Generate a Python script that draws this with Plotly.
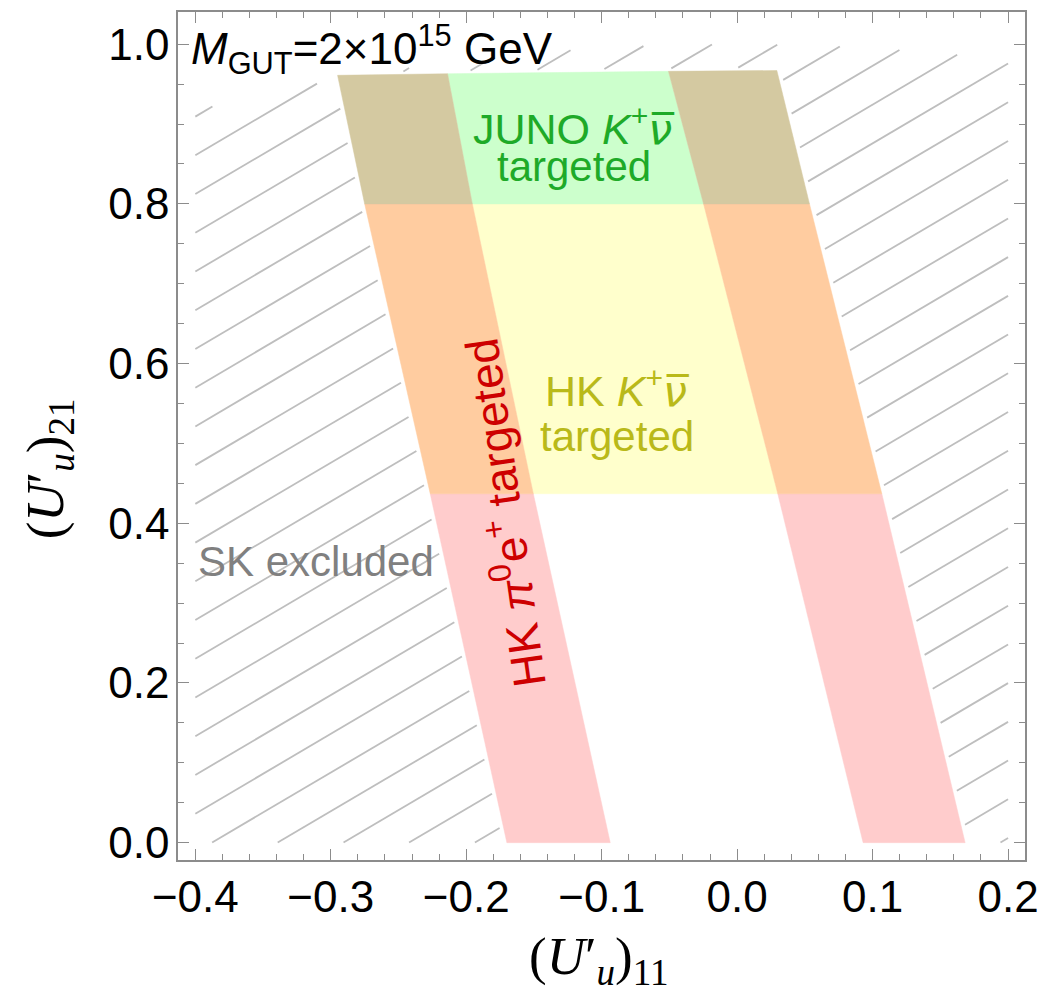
import numpy as np
import plotly.graph_objects as go

# ---------------- data ----------------
# band edges: (U'_u)_11 values at given (U'_u)_21 levels
L1_y = [0.0, 0.437, 0.80, 0.961]
L1_x = [-0.170, -0.2266, -0.275, -0.295]
L2_y = [0.0, 0.437, 0.80, 0.963]
L2_x = [-0.0937, -0.1505, -0.1955, -0.2138]
R1_y = [0.0, 0.437, 0.80, 0.966]
R1_x = [0.0930, 0.0300, -0.0248, -0.0507]
R2_y = [0.0, 0.437, 0.80, 0.967]
R2_x = [0.1683, 0.1068, 0.0534, 0.0293]

HK_KNU_LOW = 0.437     # lower limit of HK K+nu targeted
JUNO_LOW = 0.80        # lower limit of JUNO K+nu targeted

SK_XMIN, SK_XMAX = -0.4, 0.2          # extent of the SK excluded hatch
HATCH_C0, HATCH_DC = 0.3878, 0.0485   # hatch line offsets (y - x)

x_ticks = [-0.4, -0.3, -0.2, -0.1, 0.0, 0.1, 0.2]
y_ticks = [0.0, 0.2, 0.4, 0.6, 0.8, 1.0]

C_PINK = "rgb(255,204,204)"
C_ORANGE = "rgb(255,204,160)"
C_YELLOW = "rgb(255,255,204)"
C_GREEN = "rgb(204,255,204)"
C_BROWN = "rgb(212,201,161)"
C_HATCH = "rgb(190,190,190)"
FRAME = "rgb(140,140,140)"


def edge_pts(ex, ey, y0, y1):
    """points of an edge between y0 and y1 (y1=None -> edge top)"""
    ex = np.asarray(ex, float); ey = np.asarray(ey, float)
    if y1 is None:
        y1 = ey[-1]
    ys = [y0] + [v for v in ey if y0 < v < y1] + [y1]
    xs = list(np.interp(ys, ey, ex))
    return xs, ys


def region(left, right, y0, y1):
    lx, ly = edge_pts(*left, y0, y1)
    rx, ry = edge_pts(*right, y0, y1)
    xs = lx + rx[::-1] + [lx[0]]
    ys = ly + ry[::-1] + [ly[0]]
    return xs, ys


L1 = (L1_x, L1_y); L2 = (L2_x, L2_y); R1 = (R1_x, R1_y); R2 = (R2_x, R2_y)

fig = go.Figure()


def add_poly(xs, ys, color):
    fig.add_trace(go.Scatter(x=xs, y=ys, mode="lines", fill="toself",
                             fillcolor=color, line=dict(width=0.5, color=color),
                             hoverinfo="skip", showlegend=False))


# middle (targeted by HK / JUNO K+nu)
add_poly(*region(L2, R1, HK_KNU_LOW, JUNO_LOW), C_YELLOW)
add_poly(*region(L2, R1, JUNO_LOW, None), C_GREEN)
# bands (HK pi0 e+ targeted)
for a, b in [(L1, L2), (R1, R2)]:
    add_poly(*region(a, b, 0.0, HK_KNU_LOW), C_PINK)
    add_poly(*region(a, b, HK_KNU_LOW, JUNO_LOW), C_ORANGE)
    add_poly(*region(a, b, JUNO_LOW, None), C_BROWN)

# ---------------- SK excluded hatching ----------------
mx, my = 0.003, 0.004
hx, hy = [], []
xs = np.arange(SK_XMIN, SK_XMAX + 1e-9, 0.0002)
top_x = [L1_x[-1], R2_x[-1]]
top_y = [L1_y[-1], R2_y[-1]]
for k in range(-14, 23):
    c = HATCH_C0 + HATCH_DC * k
    ys = xs + c
    lim = np.sqrt(np.clip(1 - xs ** 2, 0, None))
    ok = (ys >= 0) & (ys <= lim)
    inside = ((xs > np.interp(ys, L1_y, L1_x) - mx) &
              (xs < np.interp(ys, R2_y, R2_x) + mx) &
              (ys < np.interp(xs, top_x, top_y) + my))
    ok &= ~inside
    idx = np.where(ok)[0]
    if len(idx) == 0:
        continue
    breaks = np.where(np.diff(idx) > 1)[0]
    starts = np.concatenate([[idx[0]], idx[breaks + 1]])
    ends = np.concatenate([idx[breaks], [idx[-1]]])
    for s, e in zip(starts, ends):
        if e - s < 2:
            continue
        hx += [xs[s], xs[e], None]
        hy += [ys[s], ys[e], None]

fig.add_trace(go.Scatter(x=hx, y=hy, mode="lines",
                         line=dict(color=C_HATCH, width=1.8),
                         hoverinfo="skip", showlegend=False))

SANS = "Liberation Sans, Arial, sans-serif"
SERIF = "Liberation Serif, Times New Roman, serif"
NUBAR = "<span style=\"font-family:'DejaVu Sans'\">ν̅</span>"
GREEN_T = "rgb(30,170,40)"
OLIVE_T = "rgb(185,185,25)"

ann = [
    dict(x=-0.405, y=0.993, xanchor="left", yanchor="middle",
         text="<i>M</i><sub>GUT</sub>=2×10<sup>15</sup> GeV",
         font=dict(size=44, color="black", family=SANS)),
    dict(x=-0.1203, y=0.897, xanchor="center", yanchor="middle",
         text="JUNO <i>K</i><sup>+</sup><i>" + NUBAR + "</i>",
         font=dict(size=43, color=GREEN_T, family=SANS)),
    dict(x=-0.1203, y=0.847, xanchor="center", yanchor="middle",
         text="targeted",
         font=dict(size=42, color=GREEN_T, family=SANS)),
    dict(x=-0.0886, y=0.569, xanchor="center", yanchor="middle",
         text="HK <i>K</i><sup>+</sup><i>" + NUBAR + "</i>",
         font=dict(size=43, color=OLIVE_T, family=SANS)),
    dict(x=-0.0886, y=0.509, xanchor="center", yanchor="middle",
         text="targeted",
         font=dict(size=42, color=OLIVE_T, family=SANS)),
    dict(x=-0.1735, y=0.412, xanchor="center", yanchor="middle",
         text="HK <i>π</i><sup>0</sup>e<sup>+</sup> targeted", textangle=-98,
         font=dict(size=46, color="rgb(205,0,0)", family=SANS)),
    dict(x=-0.3107, y=0.352, xanchor="center", yanchor="middle",
         text="SK excluded",
         font=dict(size=42, color="rgb(128,128,128)", family=SANS)),
    dict(x=0.496, y=-0.118, xref="paper", yref="paper", xanchor="center", yanchor="middle",
         text="(<i>U</i>′<sub><i>u</i></sub>)<sub>11</sub>",
         font=dict(size=53, color="black", family=SERIF)),
    dict(x=-0.152, y=0.461, xref="paper", yref="paper", xanchor="center", yanchor="middle",
         text="(<i>U</i>′<sub><i>u</i></sub>)<sub>21</sub>", textangle=-90,
         font=dict(size=53, color="black", family=SERIF)),
]
for a in ann:
    a.setdefault("xref", "x")
    a.setdefault("yref", "y")
    a["showarrow"] = False

axis_common = dict(showline=True, linecolor=FRAME, linewidth=1.5, mirror="ticks",
                   ticks="inside", ticklen=11, tickwidth=1.2, tickcolor=FRAME,
                   showgrid=False, zeroline=False, tickformat=".1f", automargin=False,
                   tickfont=dict(size=44, color="black", family=SANS))

# the page adds an 8px body margin, so margins are offset by 8 px
fig.update_layout(
    width=1049, height=1002,
    margin=dict(l=170, r=32, t=4, b=150, autoexpand=False),
    paper_bgcolor="white", plot_bgcolor="white",
    annotations=ann,
    xaxis=dict(range=[-0.4128, 0.2125], tickvals=x_ticks, ticklabelstandoff=-3,
               minor=dict(ticks="inside", ticklen=6, dtick=0.02, tick0=0, tickcolor=FRAME),
               **axis_common),
    yaxis=dict(range=[-0.0217, 1.0403], tickvals=y_ticks, ticklabelstandoff=-2,
               minor=dict(ticks="inside", ticklen=6, dtick=0.05, tick0=0, tickcolor=FRAME),
               **axis_common),
)

fig.write_html("out.html")
